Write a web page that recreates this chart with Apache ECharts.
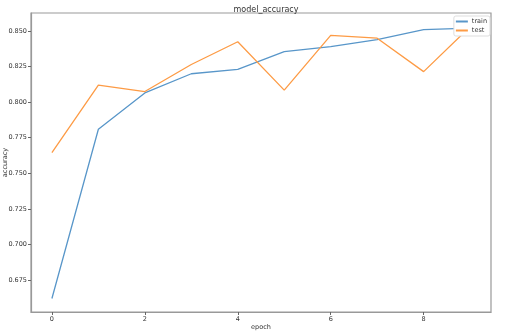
<!DOCTYPE html>
<html><head><meta charset="utf-8">
<script src="https://cdn.jsdelivr.net/npm/echarts@6/dist/echarts.min.js"></script>
<style>html,body{margin:0;padding:0;background:#fff}#c{width:505px;height:331px}</style>
</head><body><div id="c"></div>
<script>
const epochs = [0,1,2,3,4,5,6,7,8,9];
const trainAcc = [0.662,0.781,0.8065,0.820,0.823,0.8355,0.839,0.844,0.851,0.852];
const testAcc  = [0.7645,0.812,0.8075,0.8265,0.8425,0.8085,0.847,0.845,0.8215,0.853];
const xTicks = [0,2,4,6,8];
const yTicks = [0.675,0.700,0.725,0.750,0.775,0.800,0.825,0.850];

const font = 'DejaVu Sans';
const chart = echarts.init(document.getElementById('c'));
chart.setOption({
  animation:false,
  backgroundColor:'#fff',
  title:{text:'model_accuracy',left:261,top:1,textAlign:'center',
    textStyle:{fontFamily:font,fontSize:8,fontWeight:'normal',color:'#333'}},
  legend:{orient:'vertical',right:15,top:16,itemWidth:12,itemHeight:2,itemGap:2,
    icon:'rect',borderColor:'#ddd',borderWidth:1,borderRadius:2,padding:[2,3,2,2],
    backgroundColor:'#fff',
    textStyle:{fontFamily:font,fontSize:6.5,color:'#333',padding:[0,0,0,-1]},
    data:['train','test']},
  grid:{left:31,right:14,top:13,bottom:19,show:true,borderColor:'#999',borderWidth:1.2,
    containLabel:false,outerBoundsMode:'none'},
  xAxis:{type:'value',min:-0.45,max:9.45,
    name:'epoch',nameLocation:'middle',nameGap:12,nameMoveOverlap:false,
    nameTextStyle:{fontFamily:font,fontSize:6.5,color:'#333'},
    axisLine:{show:true,onZero:false,lineStyle:{color:'#999',width:1.2}},
    axisTick:{show:true,inside:false,length:3,customValues:xTicks,lineStyle:{color:'#666'}},
    axisLabel:{customValues:xTicks,fontFamily:font,fontSize:6.5,color:'#333',margin:4},
    splitLine:{show:false}},
  yAxis:{type:'value',min:0.6525,max:0.8627,
    name:'accuracy',nameLocation:'middle',nameGap:22,nameMoveOverlap:false,
    nameTextStyle:{fontFamily:font,fontSize:6.5,color:'#333'},
    axisLine:{show:true,onZero:false,lineStyle:{color:'#999',width:1.2}},
    axisTick:{show:true,inside:false,length:3,customValues:yTicks,lineStyle:{color:'#666'}},
    axisLabel:{customValues:yTicks,fontFamily:font,fontSize:6.5,color:'#333',margin:4,
      formatter:v=>v.toFixed(3)},
    splitLine:{show:false}},
  series:[
    {name:'train',type:'line',showSymbol:false,symbol:'none',
     color:'#5896c9',lineStyle:{width:1.3,color:'#5896c9'},
     data:epochs.map((e,i)=>[e,trainAcc[i]])},
    {name:'test',type:'line',showSymbol:false,symbol:'none',
     color:'#fd9b45',lineStyle:{width:1.3,color:'#fd9b45'},
     data:epochs.map((e,i)=>[e,testAcc[i]])}
  ]
});
</script></body></html>
